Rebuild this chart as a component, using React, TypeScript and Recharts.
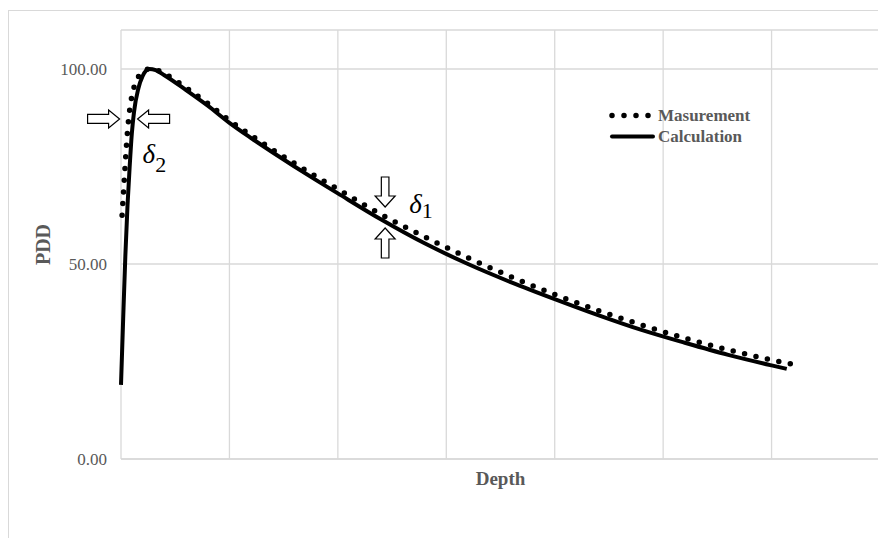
// PDD vs depth: measured (dotted) against calculated (solid) curve
import {
  CartesianGrid,
  Legend,
  Line,
  LineChart,
  ReferenceDot,
  XAxis,
  YAxis,
} from "recharts";

const measDepth = [
  0.05, 0.1, 0.2, 0.3, 0.4, 0.5, 0.6, 0.8, 1.0, 1.3, 1.6, 2, 3, 4, 5, 6, 7, 8, 9, 10, 12, 14, 16,
  18, 20, 22, 24, 26, 28, 30, 30.9,
];
const measPdd = [
  62.5, 67, 76, 84, 89.5, 93, 95.3, 98, 99.3, 100, 99.8, 98.8, 95.2, 91.2, 86.8, 83.0, 79.3, 75.8,
  72.4, 69.2, 62.7, 57.0, 51.6, 46.7, 42.2, 38.1, 34.4, 31.0, 28.0, 25.4, 24.4,
];

const calcDepth = [
  0, 0.1, 0.2, 0.3, 0.4, 0.5, 0.6, 0.8, 1.0, 1.3, 1.6, 2, 3, 4, 5, 6, 7, 8, 9, 10, 12, 14, 16, 18,
  20, 22, 24, 26, 28, 30, 30.7,
];
const calcPdd = [
  19, 36, 52, 65, 75, 83.5, 89, 95, 98.2, 100, 99.7, 98.4, 94.6, 90.6, 86.2, 82.3, 78.6, 75.0, 71.5,
  68.1, 61.4, 55.3, 50.0, 45.3, 41.0, 36.9, 33.1, 29.8, 26.7, 24.0, 23.1,
];

const xTicks = [0, 5, 10, 15, 20, 25, 30, 35];
const yTicks = [0, 50, 100];
const seriesOrder = ["Masurement", "Calculation"];

// annotation anchors (data units): where the delta arrows point
const delta2At = { depth: 0.35, pdd: 87.2 };
const delta1At = { depth: 12.18, pdd: 62.05 };

const GREY = "#595959";
const GRID = "#d9d9d9";
const SERIF = "'Liberation Serif', 'Times New Roman', serif";

const measData = measDepth.map((d, i) => ({ depth: d, pdd: measPdd[i] }));
const calcData = calcDepth.map((d, i) => ({ depth: d, pdd: calcPdd[i] }));

const lineStyles: Record<string, { width: number; dash?: string }> = {
  Masurement: { width: 5.5, dash: "0 12" },
  Calculation: { width: 4 },
};

function LegendBox({ payload }: { payload?: { value: string }[] }) {
  if (!payload) return null;
  const items = [...payload].sort(
    (a, b) => seriesOrder.indexOf(a.value) - seriesOrder.indexOf(b.value)
  );
  return (
    <div style={{ fontFamily: SERIF, fontWeight: "bold", fontSize: 17, color: GREY }}>
      {items.map((p) => {
        const s = lineStyles[p.value];
        return (
          <div key={p.value} style={{ display: "flex", alignItems: "center", height: 21 }}>
            <svg width={46} height={21}>
              <line
                x1={3}
                x2={44}
                y1={10.5}
                y2={10.5}
                stroke="#000"
                strokeWidth={s?.width ?? 4}
                strokeDasharray={s?.dash}
                strokeLinecap="round"
              />
            </svg>
            <span style={{ marginLeft: 3, lineHeight: "21px" }}>{p.value}</span>
          </div>
        );
      })}
    </div>
  );
}

function hArrow(tx: number, ty: number, dir: 1 | -1) {
  // dir 1 points right, -1 points left
  const L = 32, H = 11, hw = 9, bw = 4.5;
  const pts = [
    [0, 0],
    [-H, -hw],
    [-H, -bw],
    [-L, -bw],
    [-L, bw],
    [-H, bw],
    [-H, hw],
  ]
    .map(([a, b]) => `${tx + a * dir},${ty + b}`)
    .join(" ");
  return <polygon points={pts} fill="#fff" stroke="#000" strokeWidth={1.2} />;
}

function vArrow(tx: number, ty: number, dir: 1 | -1) {
  // dir 1 points down, -1 points up
  const L = 30, H = 11, hw = 10, bw = 3.8;
  const pts = [
    [0, 0],
    [-hw, -H],
    [-bw, -H],
    [-bw, -L],
    [bw, -L],
    [bw, -H],
    [hw, -H],
  ]
    .map(([a, b]) => `${tx + a},${ty + b * dir}`)
    .join(" ");
  return <polygon points={pts} fill="#fff" stroke="#000" strokeWidth={1.2} />;
}

function Delta2({ cx, cy }: { cx?: number; cy?: number }) {
  if (cx == null || cy == null) return null;
  return (
    <g>
      {hArrow(cx - 9, cy, 1)}
      {hArrow(cx + 9, cy, -1)}
      <text x={cx + 14} y={cy + 44} fontFamily={SERIF} fontSize={27} fill="#000">
        <tspan fontStyle="italic">δ</tspan>
        <tspan fontSize={22} dy={9}>2</tspan>
      </text>
    </g>
  );
}

function Delta1({ cx, cy }: { cx?: number; cy?: number }) {
  if (cx == null || cy == null) return null;
  return (
    <g>
      {vArrow(cx, cy - 10, 1)}
      {vArrow(cx, cy + 11, -1)}
      <text x={cx + 24} y={cy - 4} fontFamily={SERIF} fontSize={27} fill="#000">
        <tspan fontStyle="italic">δ</tspan>
        <tspan fontSize={22} dy={5}>1</tspan>
      </text>
    </g>
  );
}

export default function App() {
  return (
    <div style={{ paddingTop: 2 }}>
      <div
        style={{
          width: 877,
          height: 527,
          borderTop: `1px solid ${GRID}`,
          borderLeft: `1px solid ${GRID}`,
        }}
      >
        <LineChart width={877} height={527} margin={{ top: 19, right: 6, left: 0, bottom: 39 }}>
          <CartesianGrid stroke={GRID} strokeWidth={1.3} verticalValues={xTicks} />
          <XAxis
            type="number"
            dataKey="depth"
            domain={[0, 35]}
            ticks={xTicks}
            tick={() => <g />}
            tickLine={false}
            height={40}
            stroke={GRID}
            strokeWidth={1.5}
            label={(props: any) => {
              const vb = props.viewBox || {};
              return (
                <text
                  x={vb.x + vb.width / 2}
                  y={vb.y + 19}
                  textAnchor="middle"
                  dominantBaseline="central"
                  fontFamily={SERIF}
                  fontWeight="bold"
                  fontSize={19}
                  fill={GREY}
                >
                  Depth
                </text>
              );
            }}
          />
          <YAxis
            type="number"
            domain={[0, 110]}
            ticks={yTicks}
            width={112}
            axisLine={false}
            tickLine={false}
            tickSize={0}
            tickMargin={14}
            tickFormatter={(v: number) => v.toFixed(2)}
            tick={{ fontFamily: SERIF, fontSize: 17, fill: GREY }}
            label={(props: any) => {
              const vb = props.viewBox || {};
              const x = vb.x + 34;
              const y = vb.y + vb.height / 2;
              return (
                <text
                  x={x}
                  y={y}
                  transform={`rotate(-90, ${x}, ${y})`}
                  textAnchor="middle"
                  dominantBaseline="central"
                  fontFamily={SERIF}
                  fontWeight="bold"
                  fontSize={20}
                  fill={GREY}
                >
                  PDD
                </text>
              );
            }}
          />
          <Legend
            layout="vertical"
            align="center"
            verticalAlign="middle"
            content={<LegendBox />}
            wrapperStyle={{ left: 600, top: 94, width: "auto", right: "auto", bottom: "auto" }}
          />
          <Line
            data={measData}
            dataKey="pdd"
            name="Masurement"
            type="monotone"
            stroke="#000"
            strokeWidth={5.5}
            strokeDasharray="0 11.7"
            strokeLinecap="round"
            dot={false}
            activeDot={false}
            isAnimationActive={false}
          />
          <Line
            data={calcData}
            dataKey="pdd"
            name="Calculation"
            type="monotone"
            stroke="#000"
            strokeWidth={4}
            dot={false}
            activeDot={false}
            isAnimationActive={false}
          />
          <ReferenceDot x={delta2At.depth} y={delta2At.pdd} shape={<Delta2 />} />
          <ReferenceDot x={delta1At.depth} y={delta1At.pdd} shape={<Delta1 />} />
        </LineChart>
      </div>
    </div>
  );
}
